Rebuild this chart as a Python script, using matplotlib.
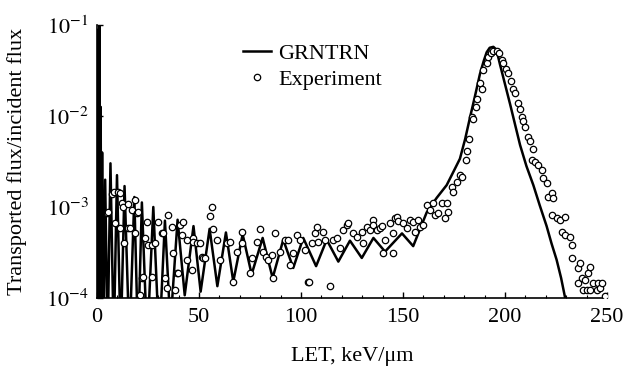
import numpy as np
import matplotlib
matplotlib.use("Agg")
import matplotlib.pyplot as plt
from matplotlib.ticker import FixedLocator, FuncFormatter, LogLocator, MultipleLocator, NullFormatter

# ---------------- data ----------------
# GRNTRN model curve: LET (keV/um) and log10(transported/incident flux)
grn_let = [0.3, 0.6, 0.9, 1.2, 1.5, 1.8, 2.1, 2.5, 3.1,
           4.0, 5.2, 6.6, 8.2, 9.8, 11.6,
           13.5, 15.9, 18.3, 20.1, 22.0, 24.6, 27.6, 30.5, 33.3, 36.0, 39.5, 43.0, 47.3,
           50.8, 55.2, 59.0, 63.2, 66.8, 71.4, 75.8, 81.2, 86.1, 91.3, 96.2, 101.1, 107.4,
           112.6, 118.3, 124.0, 129.8, 135.5, 141.2, 149.5, 155.0, 161.6, 166.5, 171.4,
           175.0, 177.9, 180.5, 182.8, 185.3, 187.7, 189.5, 191.0, 192.5, 194.3, 195.8,
           197.5, 200.0, 202.5, 205.0, 207.4, 210.5, 213.9, 217.0, 220.4, 222.8, 225.3,
           227.5, 229.4, 231.0]
grn_log = [-4.5, -1.05, -4.5, -1.0, -4.5, -1.9, -4.5, -2.4, -4.5,
           -2.70, -4.5, -2.52, -4.5, -2.65, -4.5,
           -2.77, -4.5, -2.89, -4.5, -2.95, -4.5, -3.00, -4.5, -3.15, -4.3, -3.14, -3.97, -3.21,
           -3.93, -3.24, -3.87, -3.28, -3.82, -3.30, -3.74, -3.34, -3.78, -3.36, -3.67, -3.34, -3.65,
           -3.36, -3.60, -3.37, -3.56, -3.34, -3.49, -3.29, -3.43, -3.06, -2.90, -2.76,
           -2.60, -2.47, -2.25, -2.02, -1.78, -1.54, -1.40, -1.30, -1.25, -1.24, -1.27,
           -1.43, -1.65, -1.87, -2.10, -2.32, -2.55, -2.76, -2.98, -3.21, -3.40, -3.58,
           -3.78, -3.99, -4.2]

# Experiment, low LET part
exp_low_let = [4.8, 5.5, 7.2, 8.5, 10.4, 11.3, 8.8, 11.3, 12.1, 12.9,
               13.2, 15.3, 15.3, 16.2, 17.0, 18.6, 18.6, 19.4, 20.3, 21.1,
               21.9, 22.7, 23.5, 24.4, 25.1, 26.8, 26.8, 28.4, 30.0, 31.7,
               32.5, 33.3, 34.1, 35.0, 36.6, 37.4, 38.2, 39.0, 39.9, 40.7,
               41.5, 42.3, 44.0, 44.0, 46.4, 47.2, 47.2, 48.9, 50.5, 51.3,
               52.1, 52.9, 55.4, 56.2, 57.0, 58.7, 60.3]
exp_low_log = [-3.07, -3.05, -2.86, -2.83, -2.84, -2.85, -3.18, -3.23, -2.96, -3.00,
               -3.40, -2.97, -3.23, -3.23, -3.03, -2.92, -3.29, -3.07, -3.06, -3.97,
               -3.78, -3.77, -3.34, -3.17, -3.42, -3.42, -3.77, -3.40, -3.16, -3.29,
               -3.29, -3.78, -3.89, -3.09, -3.22, -3.51, -3.91, -3.73, -3.73, -3.20,
               -3.31, -3.17, -3.36, -3.58, -3.69, -3.34, -3.38, -3.40, -3.40, -3.55,
               -3.56, -3.56, -3.10, -3.00, -3.24, -3.36, -3.58]

# Experiment, middle part
exp_mid_let = [63.6, 65.2, 66.5, 68.5, 70.9, 70.9, 75.0, 75.8, 78.3, 79.9,
               81.5, 82.8, 84.0, 85.6, 86.1, 87.3, 89.7, 92.2, 93.8, 94.6,
               96.2, 97.9, 99.5, 102.0, 103.6, 104.0, 105.2, 106.9, 107.7, 108.5,
               110.9, 111.8, 114.2, 115.8, 117.5, 119.1, 120.8, 122.4, 123.2, 125.7,
               127.3, 129.8, 130.6, 132.2, 133.8, 135.1, 135.5, 137.1, 138.7, 139.5,
               140.4, 141.2, 143.6, 145.3, 145.3, 146.1, 146.9, 147.7, 150.2, 151.8,
               153.4, 155.0, 155.9, 157.5, 158.3, 160.0]
exp_mid_log = [-3.40, -3.38, -3.82, -3.49, -3.27, -3.40, -3.73, -3.56, -3.38, -3.24,
               -3.49, -3.55, -3.58, -3.53, -3.78, -3.29, -3.49, -3.36, -3.36, -3.64,
               -3.51, -3.31, -3.36, -3.47, -3.82, -3.82, -3.40, -3.29, -3.22, -3.38,
               -3.27, -3.36, -3.87, -3.36, -3.34, -3.45, -3.25, -3.20, -3.18, -3.29,
               -3.33, -3.27, -3.40, -3.22, -3.25, -3.14, -3.20, -3.25, -3.23, -3.21,
               -3.51, -3.36, -3.18, -3.29, -3.51, -3.12, -3.11, -3.15, -3.18, -3.23,
               -3.14, -3.16, -3.27, -3.14, -3.22, -3.20]

# Experiment, primary peak part
exp_peak_let = [161.6, 163.2, 164.9, 165.7, 167.3, 169.0, 170.6, 171.4, 172.2, 173.9,
                174.7, 176.3, 177.9, 178.8, 180.9, 181.5, 182.5, 183.7, 184.5, 185.6,
                186.4, 187.7, 188.6, 189.4, 191.0, 191.8, 193.0, 194.3, 195.9, 197.2,
                198.4, 199.2, 200.5, 201.6, 202.8, 204.1, 204.9, 206.5, 207.4, 208.2,
                209.0, 209.8, 211.4, 212.3, 213.1, 213.9, 214.7, 216.3, 218.0, 218.8,
                220.4, 221.2, 222.9, 222.9, 223.7, 225.3, 227.0, 227.8, 229.4, 229.4,
                231.9, 232.7, 232.7, 236.0, 236.0, 236.8, 237.6, 238.4, 239.2, 240.0,
                240.8, 241.7, 241.7, 243.3, 245.0, 245.8, 246.6, 247.4, 249.0]
exp_peak_log = [-2.98, -3.03, -2.96, -3.09, -3.07, -2.96, -3.12, -2.96, -3.05, -2.78,
                -2.83, -2.73, -2.65, -2.67, -2.48, -2.39, -2.25, -2.01, -2.03, -1.90,
                -1.81, -1.64, -1.70, -1.49, -1.42, -1.35, -1.31, -1.29, -1.29, -1.31,
                -1.38, -1.42, -1.48, -1.53, -1.62, -1.70, -1.75, -1.86, -1.92, -2.01,
                -2.06, -2.12, -2.23, -2.28, -2.48, -2.36, -2.50, -2.54, -2.59, -2.68,
                -2.74, -2.89, -2.85, -3.09, -2.90, -3.12, -3.14, -3.27, -3.11, -3.31,
                -3.33, -3.42, -3.56, -3.67, -3.84, -3.62, -3.78, -3.91, -3.80, -3.91,
                -3.73, -3.66, -3.91, -3.84, -3.91, -3.84, -3.89, -3.84, -3.98]

x_ticks = [0, 50, 100, 150, 200, 250]
y_ticks = [1e-4, 1e-3, 1e-2, 1e-1]

# ---------------- plot ----------------
plt.rcParams['font.family'] = ['Liberation Serif', 'DejaVu Serif']
plt.rcParams['mathtext.fontset'] = 'stix'

fig = plt.figure(figsize=(6.27, 3.77), dpi=100)
ax = fig.add_axes([97/627, 1 - 298/377, 510/627, 273/377])

exp_let = exp_low_let + exp_mid_let + exp_peak_let
exp_log = exp_low_log + exp_mid_log + exp_peak_log

grn_y = 10.0 ** np.array(grn_log)
exp_y = 10.0 ** np.array(exp_log)

ax.plot(grn_let, grn_y, color='black', lw=1.8, label='GRNTRN', zorder=2)
ax.plot(exp_let, exp_y, linestyle='none', marker='o', markersize=4.6,
        markerfacecolor='white', markeredgecolor='black', markeredgewidth=0.9,
        label='Experiment', zorder=3)

ax.set_yscale('log')
ax.set_xlim(0, 250)
ax.set_ylim(1e-4, 1e-1)

ax.spines['top'].set_visible(False)
ax.spines['right'].set_visible(False)
for s in ('left', 'bottom'):
    ax.spines[s].set_linewidth(1.2)

ax.xaxis.set_major_locator(FixedLocator(x_ticks))
ax.xaxis.set_minor_locator(MultipleLocator(10))
ax.yaxis.set_major_locator(FixedLocator(y_ticks))
ax.yaxis.set_minor_locator(LogLocator(base=10, subs=np.arange(2, 10)))
ax.yaxis.set_minor_formatter(NullFormatter())
ax.yaxis.set_major_formatter(FuncFormatter(lambda v, p: r'$10^{%d}$' % int(round(np.log10(v)))))

ax.tick_params(axis='both', which='major', direction='in', length=4, width=1,
               labelsize=16, colors='black')
ax.tick_params(axis='both', which='minor', direction='in', length=2.5, width=0.8)
ax.tick_params(axis='x', which='major', pad=7)
ax.tick_params(axis='y', which='major', pad=6)

ax.set_xlabel('LET, keV/\u03bcm', fontsize=16)
ax.set_ylabel('Transported flux/incident flux', fontsize=16)
ax.xaxis.set_label_coords(0.5, -0.18)
ax.yaxis.set_label_coords(-0.137, 0.5)

ax.legend(loc='upper left', bbox_to_anchor=(243/627, 1 - 43/377),
          bbox_transform=fig.transFigure, frameon=False, fontsize=16,
          handlelength=1.25, handletextpad=0.35, borderpad=0, borderaxespad=0,
          labelspacing=0.25, numpoints=1)

fig.savefig('out.png', dpi=100)
